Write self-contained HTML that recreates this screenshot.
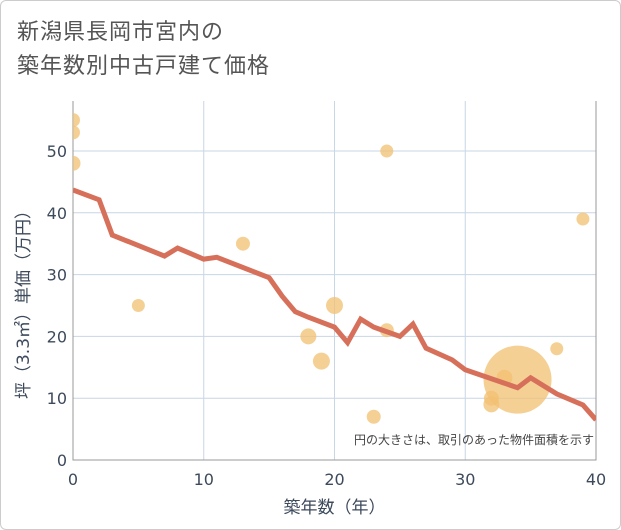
<!DOCTYPE html>
<html><head><meta charset="utf-8"><style>
body{margin:0;background:#fff;}
#wrap{position:relative;width:619px;height:528px;border:1px solid #ccc;border-radius:6px;background:#fff;overflow:hidden;font-family:"Liberation Sans","Noto Sans CJK JP",sans-serif;}
#title{position:absolute;left:16px;top:14px;font-size:22px;line-height:34px;color:#555;letter-spacing:1px;}
svg text{font-family:"DejaVu Sans","Noto Sans CJK JP",sans-serif;}
</style></head><body>
<div id="wrap">
<div id="title">新潟県長岡市宮内の<br>築年数別中古戸建て価格</div>
<svg id="chart" width="621" height="530" style="position:absolute;left:-1px;top:-1px"><defs><clipPath id="plotclip"><rect x="73" y="101" width="523" height="359"/></clipPath></defs></svg>
</div>
<script>
const xTicks=[0,10,20,30,40];
const yTicks=[0,10,20,30,40,50];
const lineYears=[0,2,3,7,8,10,11,15,16,17,18,20,21,22,23,25,26,27,29,30,34,35,37,39,40];
const lineValues=[43.7,42.1,36.4,33,34.3,32.5,32.8,29.5,26.5,24,23.1,21.5,19,22.8,21.5,20,22,18.1,16.2,14.6,11.7,13.3,10.7,8.9,6.5];
const bubbleYears=[0,0,0,5,13,18,19,20,23,24,24,32,32,33,34,37,39];
const bubbleValues=[55,53,48,25,35,20,16,25,7,50,21,9,10,13.3,13,18,39];
const bubbleSizes=[7,7,7.5,6.5,7,8,8.5,8.5,7,6.5,7,8,7.5,8,34,6.5,6.5];
const NS='http://www.w3.org/2000/svg';
const svg=document.getElementById('chart');
const X0=73,X1=596,Y0=460,Ytop=101;
const xs=v=>X0+(X1-X0)*v/40;
const ys=v=>Y0-(Y0-151)*v/50;
function mk(t,a,p){const e=document.createElementNS(NS,t);for(const k in a)e.setAttribute(k,a[k]);(p||svg).appendChild(e);return e;}
xTicks.forEach(t=>{
 const l=mk('line',{x1:xs(t),x2:xs(t),y1:Ytop,y2:Y0,stroke:'#c9d6e6','stroke-width':1});
 
 
 const tx=mk('text',{x:xs(t),y:Y0+25,'text-anchor':'middle','font-size':16,fill:'#3d4a5c'});
 tx.textContent=t;
 
 
});
yTicks.forEach(t=>{
 const l=mk('line',{x1:X0,x2:X1,y1:ys(t),y2:ys(t),stroke:'#c9d6e6','stroke-width':1});
 
 
 const tx=mk('text',{x:X0-6,y:ys(t)+6,'text-anchor':'end','font-size':16,fill:'#3d4a5c'});
 tx.textContent=t;
 
 
});
const ax=mk('path',{d:`M${X0},${Ytop}V${Y0}H${X1}V${Ytop}`,fill:'none',stroke:'#999','stroke-width':1});


const g=mk('g',{'clip-path':'url(#plotclip)'});


bubbleYears.forEach((yr,i)=>{
 const c=mk('circle',{cx:xs(yr),cy:ys(bubbleValues[i]),r:bubbleSizes[i],fill:'#f2c071','fill-opacity':0.75},g);
 
 
});
const pts=lineYears.map((yr,i)=>xs(yr)+','+ys(lineValues[i])).join(' ');
const pl=mk('polyline',{points:pts,fill:'none',stroke:'#d7705a','stroke-width':5,'stroke-linejoin':'miter'},g);


const note=mk('text',{x:594,y:444,'text-anchor':'end','font-size':12,fill:'#444'});
note.textContent='円の大きさは、取引のあった物件面積を示す';


const xt=mk('text',{x:(X0+X1)/2,y:513,'text-anchor':'middle','font-size':17,fill:'#3d4a5c'});
xt.textContent='築年数（年）';


const yt=mk('text',{x:0,y:0,'text-anchor':'middle','font-size':17,fill:'#3d4a5c',transform:`translate(29,${(Ytop+Y0)/2+20}) rotate(-90)`});
yt.textContent='坪（3.3㎡）単価（万円）';


</script>
</body></html>
